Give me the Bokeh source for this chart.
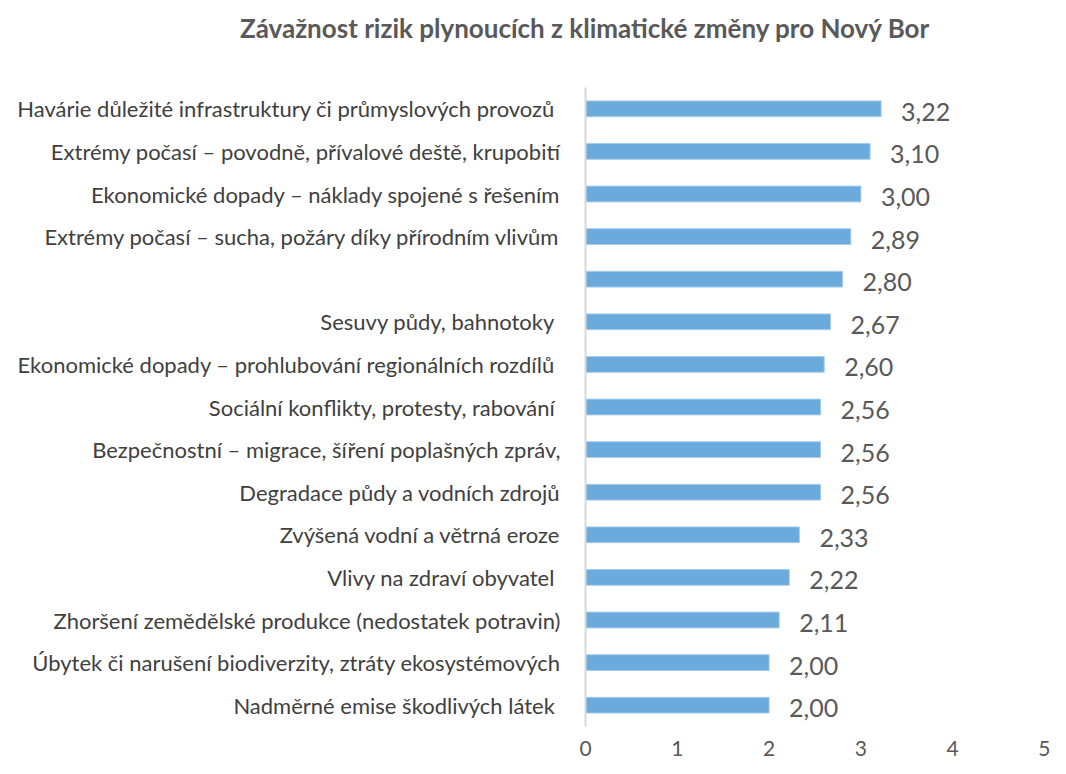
from bokeh.plotting import figure
from bokeh.layouts import column
from bokeh.models import Range1d, FactorRange, ColumnDataSource, FixedTicker, Div
from bokeh.core.properties import value
from bokeh.embed import file_html
from bokeh.resources import INLINE

categories = [
    "Havárie důležité infrastruktury či průmyslových provozů ",
    "Extrémy počasí – povodně, přívalové deště, krupobití",
    "Ekonomické dopady – náklady spojené s řešením",
    "Extrémy počasí – sucha, požáry díky přírodním vlivům",
    " ",
    "Sesuvy půdy, bahnotoky ",
    "Ekonomické dopady – prohlubování regionálních rozdílů ",
    "Sociální konflikty, protesty, rabování ",
    "Bezpečnostní – migrace, šíření poplašných zpráv,",
    "Degradace půdy a vodních zdrojů",
    "Zvýšená vodní a větrná eroze",
    "Vlivy na zdraví obyvatel ",
    "Zhoršení zemědělské produkce (nedostatek potravin)",
    "Úbytek či narušení biodiverzity, ztráty ekosystémových",
    "Nadměrné emise škodlivých látek ",
]
values = [3.22, 3.10, 3.00, 2.89, 2.80, 2.67, 2.60, 2.56, 2.56, 2.56, 2.33, 2.22, 2.11, 2.00, 2.00]
x_ticks = [0, 1, 2, 3, 4, 5]
title_text = "Závažnost rizik plynoucích z klimatické změny pro Nový Bor"

labels = [f"{v:.2f}".replace(".", ",") for v in values]
src = ColumnDataSource(dict(cat=categories, val=values, lab=labels))

FONT = "Lato"
GREY = "#595959"

W = 1050
TH = 60          # title strip height
H = 758 - TH     # main chart height

# --- title strip ---
t = Div(text=title_text, width=W, height=TH, margin=0,
        styles={"font-family": FONT, "font-size": "26px", "font-weight": "bold",
                "color": GREY, "white-space": "nowrap", "padding-left": "240px",
                "padding-top": "12px", "box-sizing": "border-box", "line-height": "32px"})

# --- main chart ---
p = figure(
    width=W, height=H,
    y_range=FactorRange(factors=list(reversed(categories))),
    x_range=Range1d(0, 5),
    output_backend="svg", toolbar_location=None,
    min_border_left=585, min_border_right=6, min_border_top=87 - TH, min_border_bottom=30,
)

p.hbar(y="cat", right="val", left=0, height=0.37, source=src,
       fill_color="#6AAADC", line_color="#A8CDEB", line_width=1)

p.text(x="val", y="cat", text="lab", source=src, x_offset=20, y_offset=3,
       text_font=value(FONT), text_font_size="25px", text_color=GREY,
       text_align="left", text_baseline="middle")

p.xgrid.visible = False
p.ygrid.visible = False
p.outline_line_color = None

p.xaxis.ticker = FixedTicker(ticks=x_ticks)
p.xaxis.axis_line_color = None
p.xaxis.major_tick_line_color = None
p.xaxis.minor_tick_line_color = None
p.xaxis.major_label_text_font = FONT
p.xaxis.major_label_text_font_size = "21px"
p.xaxis.major_label_text_color = GREY
p.xaxis.major_label_standoff = 8

p.yaxis.axis_line_color = "#D9D9D9"
p.yaxis.axis_line_width = 2
p.yaxis.major_tick_line_color = None
p.yaxis.minor_tick_line_color = None
p.yaxis.major_label_text_font = FONT
p.yaxis.major_label_text_font_size = "22px"
p.yaxis.major_label_text_color = "#404040"
p.yaxis.major_label_standoff = 19

layout = column(t, p, spacing=0)
open("out.html", "w").write(file_html(layout, INLINE))
